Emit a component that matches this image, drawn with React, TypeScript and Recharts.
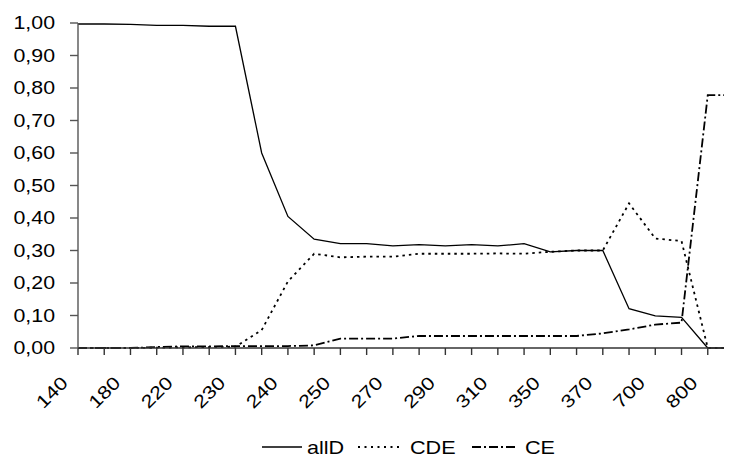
import React from 'react'
import { LineChart, Line, XAxis, YAxis, Legend } from 'recharts'

// categories (only every second one carries a visible label)
const categories = [
  '140', '160', '180', '200', '220', '225', '230', '235', '240', '245', '250', '260', '270',
  '280', '290', '300', '310', '330', '350', '360', '370', '500', '700', '750', '800', '900',
]

const allD = [
  0.997, 0.997, 0.996, 0.993, 0.993, 0.99, 0.99, 0.6, 0.405, 0.335, 0.321, 0.321, 0.314,
  0.318, 0.314, 0.318, 0.314, 0.321, 0.296, 0.3, 0.3, 0.121, 0.099, 0.094, 0, 0,
]
const CDE = [
  0, 0, 0, 0.001, 0.002, 0.003, 0.004, 0.055, 0.205, 0.29, 0.279, 0.281, 0.281,
  0.29, 0.29, 0.29, 0.291, 0.29, 0.296, 0.3, 0.3, 0.445, 0.337, 0.329, 0, 0,
]
const CE = [
  0, 0, 0, 0.003, 0.005, 0.005, 0.006, 0.006, 0.006, 0.008, 0.029, 0.029, 0.029,
  0.037, 0.037, 0.037, 0.037, 0.037, 0.037, 0.037, 0.045, 0.057, 0.072, 0.078, 0.778, 0.778,
]

const yTicks = [0, 0.1, 0.2, 0.3, 0.4, 0.5, 0.6, 0.7, 0.8, 0.9, 1.0]

const data = categories.map((cat, i) => ({ cat, allD: allD[i], CDE: CDE[i], CE: CE[i] }))

const FONT = '"Liberation Sans", Arial, sans-serif'

const fmt = (v: number) => v.toFixed(2).replace('.', ',')

function YTick(props: any) {
  const { x, y, payload } = props
  return (
    <text
      x={0}
      y={0}
      dy="0.36em"
      textAnchor="end"
      fontFamily={FONT}
      fontSize={17.5}
      fill="#000"
      transform={`translate(${x - 13},${y}) scale(1.22,1)`}
    >
      {fmt(payload.value)}
    </text>
  )
}

function XTick(props: any) {
  const { x, y, index, payload } = props
  if (index % 2 !== 0) return null
  return (
    <text
      x={0}
      y={0}
      textAnchor="end"
      fontFamily={FONT}
      fontSize={18}
      fill="#000"
      transform={`translate(${x - 9},${y + 27}) rotate(-45) scale(1.2,1)`}
    >
      {payload.value}
    </text>
  )
}

function LegendBox() {
  const text = (x: number, label: string) => (
    <text
      x={0}
      y={0}
      fontFamily={FONT}
      fontSize={18}
      fill="#000"
      transform={`translate(${x},18.5) scale(1.2,1)`}
    >
      {label}
    </text>
  )
  return (
    <svg width={300} height={24} style={{ display: 'block' }}>
      <line x1={0} x2={40} y1={12} y2={12} stroke="#000" strokeWidth={1.3} />
      {text(45, 'allD')}
      <line x1={96} x2={141} y1={12} y2={12} stroke="#000" strokeWidth={2} strokeDasharray="2 4.5" />
      {text(148, 'CDE')}
      <line x1={210} x2={256} y1={12} y2={12} stroke="#000" strokeWidth={2} strokeDasharray="9 3 2 3" />
      {text(263, 'CE')}
    </svg>
  )
}

export default function App() {
  return (
    <div style={{ width: 724, height: 458, overflow: 'hidden', position: 'relative' }}>
      <LineChart width={744} height={458} data={data} margin={{ top: 15, right: 18, left: 0, bottom: 7 }}>
        <XAxis
          dataKey="cat"
          scale="point"
          padding={{ left: 0, right: 0 }}
          interval={0}
          tickSize={7}
          height={87}
          axisLine={{ stroke: '#333', strokeWidth: 1.4 }}
          tickLine={{ stroke: '#333', strokeWidth: 1.4 }}
          tick={<XTick />}
        />
        <YAxis
          type="number"
          domain={[0, 1]}
          ticks={yTicks}
          interval={0}
          width={70}
          tickSize={8}
          axisLine={{ stroke: '#555', strokeWidth: 1.4 }}
          tickLine={{ stroke: '#555', strokeWidth: 1.4 }}
          tick={<YTick />}
        />
        <Legend
          verticalAlign="bottom"
          content={<LegendBox />}
          wrapperStyle={{ left: 254, width: 300, height: 24 }}
        />
        <Line
          type="linear"
          dataKey="allD"
          stroke="#000"
          strokeWidth={1.3}
          dot={false}
          isAnimationActive={false}
        />
        <Line
          type="linear"
          dataKey="CDE"
          stroke="#000"
          strokeWidth={1.8}
          strokeDasharray="2.5 4"
          dot={false}
          isAnimationActive={false}
        />
        <Line
          type="linear"
          dataKey="CE"
          stroke="#000"
          strokeWidth={1.8}
          strokeDasharray="9 3 2 3"
          dot={false}
          isAnimationActive={false}
        />
      </LineChart>
    </div>
  )
}
